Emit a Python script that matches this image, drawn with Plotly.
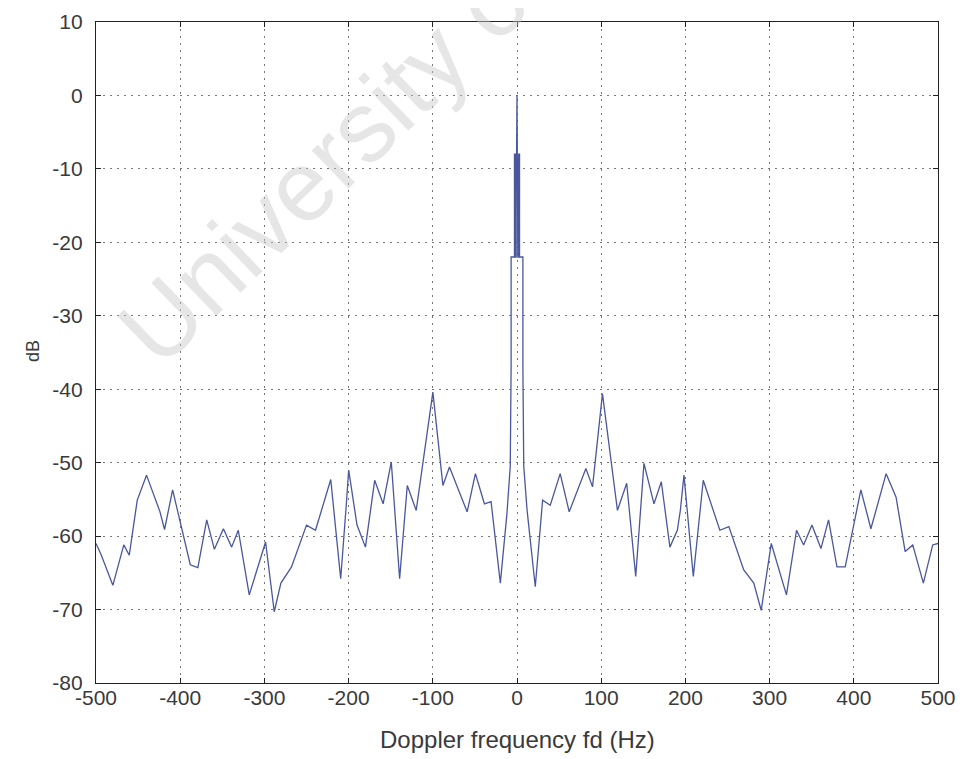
import plotly.graph_objects as go

# ---- data (Doppler frequency in Hz, level in dB) ----
left_freq = [-500, -494, -480, -467, -460.5, -451, -440, -424, -418.6, -409, -388, -379,
             -368.5, -359.4, -348.7, -338.9, -331, -318, -298.6, -288.3, -280.4, -267.8,
             -250, -239.3, -221.2, -209.4, -202.6, -199.9, -190, -180, -169, -159, -149.3,
             -139.4, -130.3, -119.7, -99.9, -88, -80.2, -59.2, -49.4, -38.7, -30.8, -19.8]
left_db = [-61.0, -62.5, -66.7, -61.2, -62.6, -55.1, -51.7, -56.7, -59.1, -53.7, -63.9, -64.3,
           -57.8, -61.8, -59.0, -61.5, -59.2, -68.0, -60.8, -70.3, -66.4, -64.2,
           -58.5, -59.2, -52.3, -65.8, -55.5, -51.0, -58.5, -61.5, -52.4, -55.6, -49.9,
           -65.8, -53.1, -56.5, -40.4, -53.1, -50.6, -56.7, -51.5, -55.6, -55.3, -66.4]

main_freq = [-12, -8, -7, -7, -3, -3, -2, -2, -1, -1, -0.5, 0, 0.5, 1, 1, 2, 2, 3, 3, 7, 7, 8, 12]
main_db = [-57, -50.5, -37, -22, -22, -8, -8, -22, -22, -8, -8, 0, -8, -8, -22, -22, -8, -8,
           -22, -22, -37, -50.5, -56.5]

right_freq = [21.7, 30.4, 39.5, 51.3, 62, 81.8, 89.7, 101.5, 119.3, 130.3, 141, 150.8,
              162.7, 171.4, 181.6, 190.4, 194, 198.3, 209.4, 221.2, 240.9, 251.6, 269.3,
              281.2, 290, 302, 320, 332, 340.4, 350.3, 361, 370, 380, 389.8, 408.4,
              420.3, 438.4, 450.2, 461, 470, 482.6, 493.7, 500]
right_db = [-66.9, -55.1, -55.8, -51.5, -56.7, -50.8, -53.3, -40.6, -56.5, -52.8, -65.5, -50.1,
            -55.6, -52.6, -61.5, -59.2, -56.5, -51.7, -65.5, -52.4, -59.2, -58.7, -64.6,
            -66.4, -70.1, -61.0, -68.0, -59.2, -61.2, -58.5, -61.7, -57.8, -64.2, -64.2, -53.7,
            -59.0, -51.5, -54.7, -62.1, -61.2, -66.4, -61.2, -61.0]

x_ticks = [-500, -400, -300, -200, -100, 0, 100, 200, 300, 400, 500]
y_ticks = [10, 0, -10, -20, -30, -40, -50, -60, -70, -80]

freq = left_freq + main_freq + right_freq
level = left_db + main_db + right_db

font_family = "Liberation Sans, Arial, sans-serif"
text_color = "#3a3a3a"

fig = go.Figure()
fig.add_trace(go.Scatter(x=freq, y=level, mode="lines",
                         line=dict(color="#4a579c", width=1.3), hoverinfo="x+y"))

axis_common = dict(showline=True, linecolor="#222", linewidth=1.2, mirror="allticks",
                   ticks="inside", ticklen=5, tickcolor="#222", tickwidth=1,
                   showgrid=True, gridcolor="#777", gridwidth=1, griddash="2px,5px",
                   zeroline=False, automargin=False,
                   tickfont=dict(family=font_family, size=21, color=text_color))

fig.update_xaxes(range=[-500, 500], tickvals=x_ticks, ticktext=[str(v) for v in x_ticks],
                 ticklabelstandoff=-4, **axis_common)
fig.update_yaxes(range=[-80, 10], tickvals=y_ticks, ticktext=[str(v) for v in y_ticks],
                 ticklabelstandoff=8, **axis_common)

# axis titles
fig.add_annotation(text="Doppler frequency fd (Hz)", xref="paper", yref="paper",
                   x=0.5, y=-0.086, xanchor="center", yanchor="middle", showarrow=False,
                   font=dict(family=font_family, size=24, color=text_color))
fig.add_annotation(text="dB", xref="paper", yref="paper", x=-0.075, y=0.502,
                   xanchor="center", yanchor="middle", showarrow=False, textangle=-90,
                   font=dict(family=font_family, size=18, color=text_color))

# watermark
fig.add_annotation(text="University o", xref="paper", yref="paper", x=0.27, y=0.785,
                   xanchor="center", yanchor="middle", showarrow=False, textangle=-44,
                   font=dict(family="Liberation Sans, Arial, sans-serif", size=100,
                             color="rgba(200,200,200,0.45)"))

# page body adds an 8px offset; compensate so the plot box lands where the reference has it
fig.update_layout(width=957, height=751, margin=dict(l=88, r=27, t=14, b=76),
                  plot_bgcolor="white", paper_bgcolor="white", showlegend=False)

fig.write_html("out.html")
